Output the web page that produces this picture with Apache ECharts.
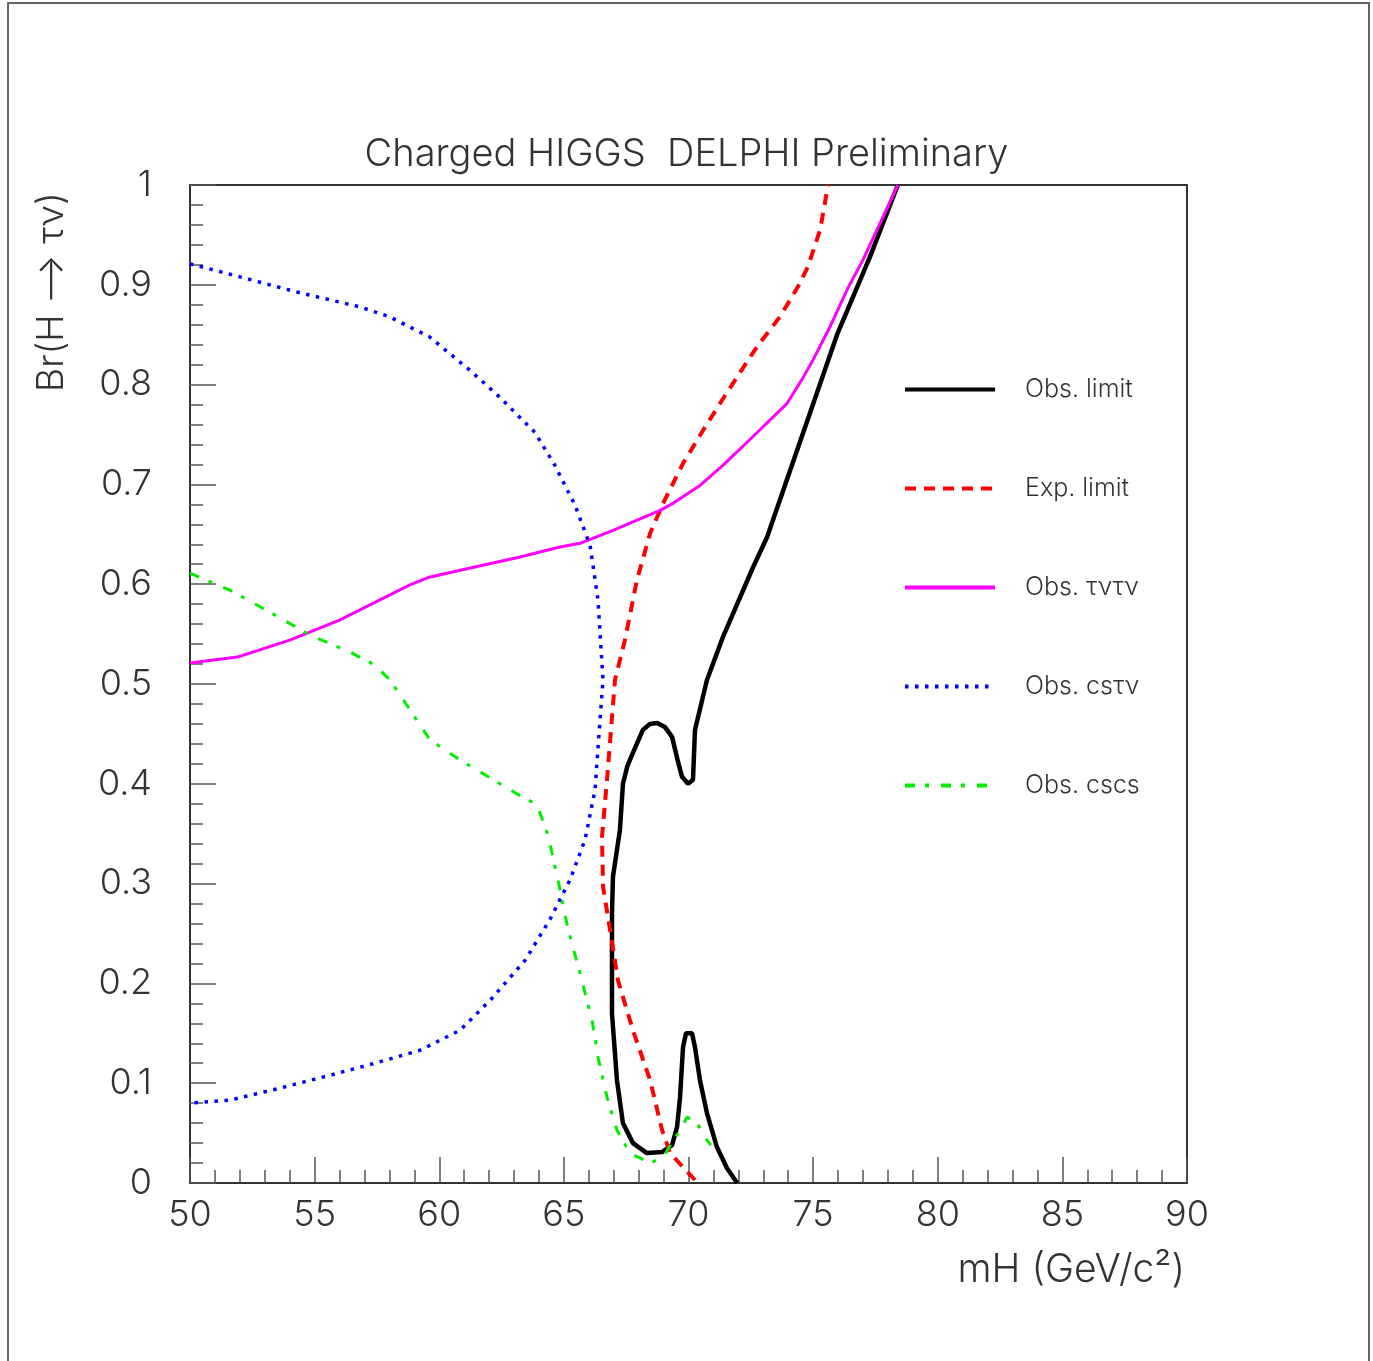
<!DOCTYPE html>
<html>
<head>
<meta charset="utf-8">
<script src="https://cdn.jsdelivr.net/npm/echarts@6/dist/echarts.min.js"></script>
<style>
  html, body { margin: 0; padding: 0; background: #fff; }
  #chart { width: 1373px; height: 1361px; }
</style>
</head>
<body>
<div id="chart"></div>
<script>
  // curves: [mH, Br]
  var obsLimit = [
    [71.95, 0.0], [71.54, 0.015], [71.14, 0.036], [70.74, 0.07], [70.46, 0.103],
    [70.26, 0.136], [70.14, 0.15], [69.90, 0.15], [69.78, 0.136], [69.66, 0.086],
    [69.54, 0.056], [69.34, 0.038], [68.94, 0.031], [68.33, 0.03], [67.77, 0.04],
    [67.37, 0.06], [67.13, 0.103], [66.93, 0.17], [66.93, 0.27], [66.97, 0.307],
    [67.25, 0.354], [67.37, 0.40], [67.55, 0.418], [67.77, 0.431], [68.17, 0.454],
    [68.45, 0.460], [68.74, 0.461], [69.05, 0.457], [69.34, 0.447], [69.55, 0.425],
    [69.74, 0.407], [69.98, 0.40], [70.18, 0.404], [70.26, 0.454], [70.74, 0.504],
    [71.38, 0.547], [72.59, 0.617], [73.15, 0.647], [75.96, 0.85], [77.28, 0.928],
    [78.4, 1.0]
  ];
  var expLimit = [
    [70.26, 0.003], [69.26, 0.03], [68.94, 0.053], [68.46, 0.103], [67.77, 0.153],
    [67.17, 0.203], [66.85, 0.254], [66.57, 0.297], [66.53, 0.347], [66.73, 0.404],
    [67.05, 0.504], [67.45, 0.544], [67.93, 0.604], [68.46, 0.651], [68.98, 0.681],
    [69.78, 0.721], [70.58, 0.754], [71.54, 0.792], [72.75, 0.838], [73.67, 0.868],
    [74.39, 0.898], [74.79, 0.918], [75.28, 0.955], [75.6, 1.0]
  ];
  var obsTauTau = [
    [50, 0.521], [51.9, 0.527], [54.0, 0.544], [56.0, 0.564], [57.6, 0.584],
    [58.8, 0.599], [59.6, 0.607], [61.2, 0.616], [63.2, 0.627], [64.8, 0.637],
    [65.65, 0.641], [66.97, 0.654], [68.86, 0.674], [69.38, 0.681], [70.46, 0.699],
    [71.38, 0.719], [72.59, 0.748], [73.95, 0.781], [74.55, 0.805], [75.0, 0.825],
    [75.68, 0.858], [76.36, 0.895], [77.0, 0.925], [78.4, 1.0]
  ];
  var obsCsTau = [
    [50, 0.921], [52.0, 0.908], [54.4, 0.892], [56.8, 0.878], [58.0, 0.868],
    [59.6, 0.848], [61.2, 0.815], [62.4, 0.788], [63.84, 0.752], [64.64, 0.719],
    [65.45, 0.679], [66.05, 0.639], [66.37, 0.584], [66.57, 0.504], [66.45, 0.464],
    [66.25, 0.394], [65.85, 0.344], [65.25, 0.304], [64.44, 0.264], [63.44, 0.223],
    [62.04, 0.183], [60.83, 0.153], [59.23, 0.133], [57.42, 0.120], [55.62, 0.108],
    [53.61, 0.095], [51.6, 0.083], [50, 0.080]
  ];
  var obsCsCs = [
    [50, 0.611], [51.6, 0.594], [53.21, 0.572], [54.81, 0.549], [56.42, 0.532],
    [57.42, 0.519], [58.02, 0.504], [58.83, 0.474], [59.63, 0.444], [60.83, 0.424],
    [62.04, 0.406], [63.04, 0.391], [63.92, 0.379], [64.36, 0.349], [64.76, 0.304],
    [65.17, 0.254], [65.65, 0.210], [66.13, 0.163], [66.37, 0.126], [66.73, 0.086],
    [67.13, 0.053], [67.65, 0.030], [68.46, 0.020], [68.98, 0.026], [69.66, 0.053],
    [69.94, 0.066], [70.34, 0.060], [70.74, 0.043], [70.9, 0.038]
  ];
  var legendNames = ['Obs. limit', 'Exp. limit', 'Obs. τντν', 'Obs. csτν', 'Obs. cscs'];

  var font = 'Inter';
  var fw = 300;
  var grey = '#333';

  var myChart = echarts.init(document.getElementById('chart'));

  var option = {
    backgroundColor: '#fff',
    animation: false,
    title: {
      text: 'Charged HIGGS  DELPHI Preliminary',
      left: 'center',
      top: 131,
      textStyle: { fontFamily: font, fontSize: 38, fontWeight: fw, color: grey }
    },
    legend: {
      orient: 'vertical',
      left: 898,
      top: 372,
      itemWidth: 90,
      itemHeight: 26,
      itemGap: 74,
      itemStyle: { opacity: 0 },
      lineStyle: { width: 4 },
      textStyle: { fontFamily: font, fontSize: 25, fontWeight: fw, color: grey, padding: [0, 0, 0, 25] },
      data: legendNames
    },
    grid: { left: 190, top: 185, right: 186, bottom: 178 },
    xAxis: [{
      type: 'value', min: 50, max: 90, interval: 5,
      axisLine: { onZero: false, lineStyle: { color: grey, width: 2 } },
      axisTick: { inside: true, length: 26, lineStyle: { color: '#555', width: 1.5 } },
      minorTick: { show: true, splitNumber: 5, length: 13, lineStyle: { color: '#555', width: 1.5 } },
      splitLine: { show: false },
      axisLabel: { margin: 14, fontFamily: font, fontSize: 36, fontWeight: fw, color: grey }
    }, {
      type: 'value', min: 50, max: 90, position: 'top',
      axisLine: { show: true, onZero: false, lineStyle: { color: grey, width: 2 } },
      axisTick: { show: false }, axisLabel: { show: false }, splitLine: { show: false }
    }],
    yAxis: [{
      type: 'value', min: 0, max: 1, interval: 0.1,
      axisLine: { show: true, onZero: false, lineStyle: { color: grey, width: 2 } },
      axisTick: { show: true, inside: true, length: 26, lineStyle: { color: '#555', width: 1.5 } },
      minorTick: { show: true, splitNumber: 5, length: 13, lineStyle: { color: '#555', width: 1.5 } },
      splitLine: { show: false },
      axisLabel: { margin: 38, fontFamily: font, fontSize: 36, fontWeight: fw, color: grey }
    }, {
      type: 'value', min: 0, max: 1, position: 'right',
      axisLine: { show: true, onZero: false, lineStyle: { color: grey, width: 2 } },
      axisTick: { show: false }, axisLabel: { show: false }, splitLine: { show: false }
    }],
    graphic: [
      { type: 'rect', shape: { x: 8, y: 3, width: 1361, height: 1362 },
        style: { fill: 'none', stroke: '#666', lineWidth: 2 }, silent: true },
      { type: 'text', x: 1185, y: 1270,
        style: { text: 'mH (GeV/c²)', font: '300 39px Inter', fill: grey,
                 textAlign: 'right', textVerticalAlign: 'middle' } },
      { type: 'text', x: 52, y: 292, rotation: Math.PI / 2,
        style: { text: 'Br(H ⟶ τν)', font: '300 37px Inter', fill: grey,
                 textAlign: 'center', textVerticalAlign: 'middle' } }
    ],
    series: [
      { name: legendNames[0], type: 'line', data: obsLimit, symbol: 'none',
        lineStyle: { color: '#000', width: 4.5 }, itemStyle: { color: '#000' } },
      { name: legendNames[1], type: 'line', data: expLimit, symbol: 'none',
        lineStyle: { color: '#ff0000', width: 4, type: [11, 8] }, itemStyle: { color: '#ff0000' } },
      { name: legendNames[2], type: 'line', data: obsTauTau, symbol: 'none',
        lineStyle: { color: '#ff00ff', width: 3 }, itemStyle: { color: '#ff00ff' } },
      { name: legendNames[3], type: 'line', data: obsCsTau, symbol: 'none',
        lineStyle: { color: '#0000ff', width: 3.5, type: [3.5, 6.5] }, itemStyle: { color: '#0000ff' } },
      { name: legendNames[4], type: 'line', data: obsCsCs, symbol: 'none',
        lineStyle: { color: '#00ee00', width: 3, type: [10, 10, 4, 12] }, itemStyle: { color: '#00ee00' } }
    ]
  };

  myChart.setOption(option);
</script>
</body>
</html>
